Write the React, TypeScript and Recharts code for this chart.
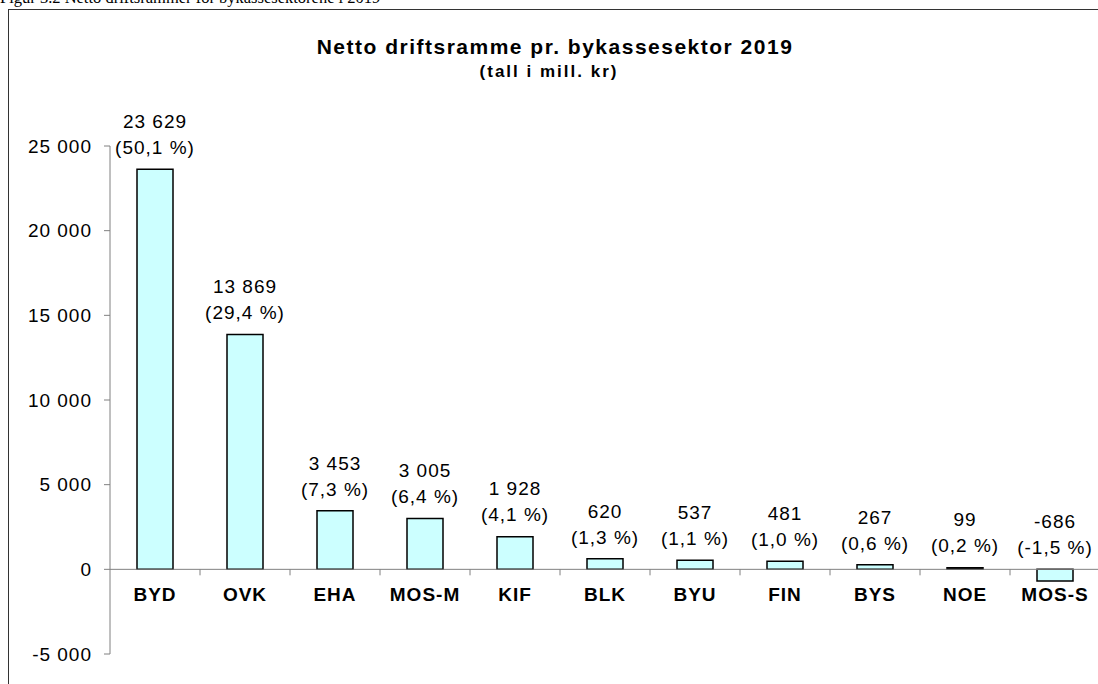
import { BarChart, Bar, XAxis, YAxis, ReferenceLine, LabelList } from "recharts";

const categories = ["BYD", "OVK", "EHA", "MOS-M", "KIF", "BLK", "BYU", "FIN", "BYS", "NOE", "MOS-S"];
const values = [23629, 13869, 3453, 3005, 1928, 620, 537, 481, 267, 99, -686];
const shares = [50.1, 29.4, 7.3, 6.4, 4.1, 1.3, 1.1, 1.0, 0.6, 0.2, -1.5];
const yTicks = [-5000, 0, 5000, 10000, 15000, 20000, 25000];

const data = categories.map((name, i) => ({ name, value: values[i] }));

const FONT = "'Liberation Sans', Arial, sans-serif";
const AXIS = "#808080";

// plot geometry (px inside the chart svg)
const TOP = 146;
const PLOT_H = 508;
const PLOT_W = 990;
const Y_MIN = -5000;
const Y_MAX = 25000;
const ZERO_Y = TOP + (PLOT_H * Y_MAX) / (Y_MAX - Y_MIN);
const BAND = PLOT_W / categories.length;

const fmt = (v: number) => {
  const s = Math.abs(v).toString().replace(/\B(?=(\d{3})+(?!\d))/g, "\u00a0");
  return (v < 0 ? "-" : "") + s;
};
const fmtPct = (p: number) => `(${p.toFixed(1).replace(".", ",")}\u00a0%)`;

const CategoryTick = (props: any) => {
  const { x, payload, index } = props;
  return (
    <g>
      <text
        x={x}
        y={ZERO_Y + 25}
        dy="0.355em"
        textAnchor="middle"
        fontFamily={FONT}
        fontSize={19}
        fontWeight="bold"
        letterSpacing={1}
        fill="#000"
      >
        {payload.value}
      </text>
      {index < categories.length - 1 && (
        <line x1={x + BAND / 2} x2={x + BAND / 2} y1={ZERO_Y} y2={ZERO_Y + 6} stroke={AXIS} />
      )}
    </g>
  );
};

const ValueLabel = (props: any) => {
  const { x, y, width, height, index } = props;
  const anchor = Math.min(y, y + height);
  const cx = x + width / 2;
  return (
    <g fontFamily={FONT} fontSize={19} letterSpacing={1} fill="#000">
      <text x={cx} y={anchor - 48} dy="0.355em" textAnchor="middle">
        {fmt(values[index])}
      </text>
      <text x={cx} y={anchor - 22} dy="0.355em" textAnchor="middle">
        {fmtPct(shares[index])}
      </text>
    </g>
  );
};

export default function App() {
  return (
    <div
      style={{
        position: "absolute",
        left: 0,
        top: 0,
        width: 1098,
        height: 684,
        overflow: "hidden",
        background: "#fff",
      }}
    >
      <div
        style={{
          position: "absolute",
          left: 0,
          top: -10,
          fontFamily: "'Liberation Serif', 'Times New Roman', serif",
          fontSize: 16.5,
          lineHeight: "16.5px",
          whiteSpace: "nowrap",
        }}
      >
        Figur 3.2 Netto driftsrammer for bykassesektorene i 2019
      </div>
      <div
        style={{
          position: "absolute",
          left: 8,
          top: 9,
          width: 1200,
          height: 800,
          border: "1px solid #333",
        }}
      />
      <div
        style={{
          position: "absolute",
          left: 0,
          width: 1110,
          top: 34,
          textAlign: "center",
          fontFamily: FONT,
          fontWeight: "bold",
          fontSize: 21,
          letterSpacing: 1.5,
          lineHeight: "26px",
        }}
      >
        Netto driftsramme pr. bykassesektor 2019
      </div>
      <div
        style={{
          position: "absolute",
          left: 0,
          width: 1098,
          top: 61,
          textAlign: "center",
          fontFamily: FONT,
          fontWeight: "bold",
          fontSize: 17,
          letterSpacing: 2,
          lineHeight: "22px",
        }}
      >
        (tall i mill. kr)
      </div>
      <div style={{ position: "absolute", left: 0, top: 0 }}>
        <BarChart
          width={1110}
          height={684}
          data={data}
          margin={{ top: TOP, right: 10, bottom: 29, left: 0 }}
        >
          <XAxis
            dataKey="name"
            height={1}
            axisLine={false}
            tickLine={false}
            interval={0}
            tick={<CategoryTick />}
          />
          <YAxis
            width={110}
            domain={[Y_MIN, Y_MAX]}
            ticks={yTicks}
            interval={0}
            allowDataOverflow
            tickFormatter={fmt}
            stroke={AXIS}
            tickSize={6}
            tickMargin={12}
            tick={{ fill: "#000", fontSize: 19, fontFamily: FONT, letterSpacing: 1 }}
          />
          <ReferenceLine y={0} stroke={AXIS} strokeWidth={1} />
          <Bar
            dataKey="value"
            fill="#CCFFFF"
            stroke="#000"
            strokeWidth={1.5}
            barSize={36}
            isAnimationActive={false}
          >
            <LabelList dataKey="value" content={<ValueLabel />} />
          </Bar>
        </BarChart>
      </div>
    </div>
  );
}
